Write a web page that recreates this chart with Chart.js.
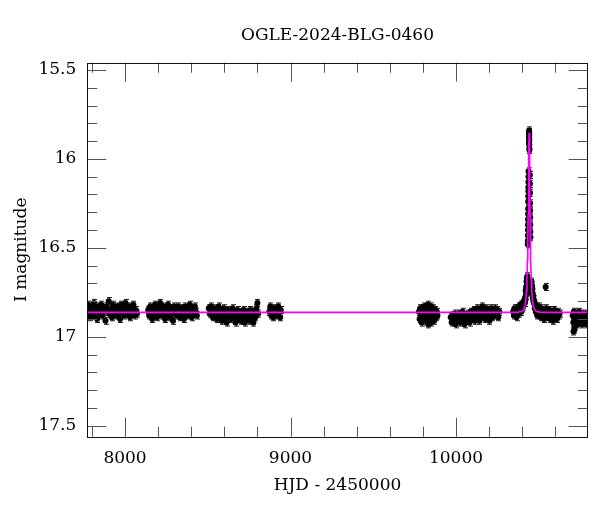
<!DOCTYPE html>
<html><head><meta charset="utf-8">
<script src="https://cdn.jsdelivr.net/npm/chart.js@4/dist/chart.umd.min.js"></script>
<style>html,body{margin:0;padding:0;background:#fff}</style>
</head><body>
<canvas id="c" width="600" height="512"></canvas>
<script>
const chartTitle = 'OGLE-2024-BLG-0460';
const xAxisLabel = 'HJD - 2450000';
const yAxisLabel = 'I magnitude';
const xTickValues = [8000, 9000, 10000];
const yTickValues = [15.5, 16, 16.5, 17, 17.5];
const xRange = [7772, 10796];
const yRange = [15.459, 17.562];
const magErr = 0.02;

// observed points [HJD-2450000, I mag], one array per observing season
const season2017 = [[7762,16.84],[7768,16.87],[7775,16.82],[7781,16.86],[7788,16.89],[7794,16.83],[7800,16.85],[7806,16.88],[7812,16.81],[7819,16.86],[7825,16.84],[7831,16.90],[7838,16.83],[7844,16.87],[7850,16.85],[7857,16.82],[7863,16.88],[7869,16.86],[7876,16.84],[7882,16.91],[7888,16.83],[7894,16.86],[7901,16.80],[7907,16.87],[7913,16.85],[7920,16.89],[7926,16.82],[7932,16.86],[7939,16.84],[7945,16.88],[7951,16.83],[7958,16.87],[7964,16.85],[7970,16.90],[7977,16.82],[7983,16.86],[7990,16.84],[7996,16.88],[8003,16.81],[8010,16.85],[8016,16.87],[8023,16.83],[8030,16.89],[8037,16.84],[8044,16.86],[8051,16.82],[8058,16.88],[8065,16.85],[8072,16.87]];
const season2018 = [[8140,16.85],[8146,16.88],[8152,16.83],[8158,16.86],[8164,16.90],[8170,16.84],[8176,16.87],[8182,16.82],[8188,16.86],[8194,16.89],[8200,16.84],[8206,16.87],[8212,16.81],[8218,16.85],[8224,16.88],[8230,16.83],[8236,16.86],[8242,16.90],[8248,16.84],[8254,16.87],[8260,16.82],[8266,16.85],[8272,16.89],[8278,16.84],[8284,16.86],[8290,16.91],[8296,16.83],[8302,16.87],[8308,16.85],[8314,16.88],[8320,16.83],[8326,16.86],[8332,16.89],[8338,16.84],[8344,16.87],[8350,16.85],[8356,16.90],[8362,16.83],[8368,16.86],[8374,16.88],[8380,16.84],[8386,16.87],[8392,16.82],[8398,16.86],[8404,16.89],[8410,16.85],[8416,16.87],[8422,16.83],[8428,16.86],[8434,16.88]];
const season2019 = [[8506,16.84],[8512,16.87],[8518,16.83],[8524,16.86],[8530,16.89],[8536,16.84],[8542,16.87],[8548,16.85],[8554,16.90],[8560,16.86],[8566,16.83],[8572,16.88],[8578,16.85],[8584,16.91],[8590,16.86],[8596,16.84],[8602,16.89],[8608,16.87],[8614,16.92],[8620,16.85],[8626,16.88],[8632,16.86],[8638,16.90],[8644,16.87],[8650,16.84],[8656,16.89],[8662,16.86],[8668,16.92],[8674,16.88],[8680,16.85],[8686,16.90],[8692,16.87],[8698,16.91],[8704,16.86],[8710,16.89],[8716,16.85],[8722,16.92],[8728,16.87],[8734,16.90],[8740,16.86],[8746,16.88],[8752,16.91],[8758,16.85],[8764,16.89],[8770,16.87],[8776,16.92],[8782,16.86],[8788,16.89],[8794,16.84],[8800,16.81],[8804,16.87]];
const season2020 = [[8872,16.86],[8878,16.83],[8884,16.88],[8890,16.85],[8896,16.89],[8902,16.84],[8908,16.87],[8914,16.85],[8920,16.88],[8926,16.83],[8932,16.86],[8938,16.89],[8941,16.85]];
const season2022 = [[9776,16.86],[9780,16.90],[9784,16.84],[9788,16.88],[9792,16.92],[9796,16.85],[9800,16.87],[9804,16.83],[9808,16.89],[9812,16.86],[9816,16.91],[9820,16.84],[9824,16.88],[9828,16.86],[9830,16.82],[9832,16.93],[9836,16.85],[9840,16.89],[9844,16.87],[9848,16.83],[9850,16.92],[9852,16.90],[9856,16.86],[9860,16.88],[9864,16.84],[9868,16.91],[9872,16.87],[9876,16.85],[9880,16.89],[9884,16.86],[9888,16.88]];
const season2023 = [[9968,16.89],[9974,16.92],[9980,16.88],[9986,16.91],[9992,16.87],[9998,16.93],[10004,16.89],[10010,16.90],[10016,16.87],[10022,16.92],[10028,16.88],[10034,16.91],[10040,16.86],[10046,16.90],[10052,16.93],[10058,16.88],[10064,16.91],[10070,16.87],[10076,16.89],[10082,16.92],[10088,16.86],[10094,16.90],[10100,16.88],[10106,16.85],[10112,16.91],[10118,16.87],[10124,16.89],[10130,16.84],[10136,16.88],[10142,16.91],[10148,16.85],[10154,16.87],[10160,16.83],[10166,16.89],[10172,16.86],[10178,16.90],[10184,16.84],[10190,16.88],[10196,16.85],[10202,16.91],[10208,16.87],[10214,16.84],[10220,16.89],[10226,16.86],[10232,16.88],[10238,16.84],[10244,16.87],[10250,16.85],[10256,16.89],[10262,16.86]];
const season2024 = [[10345,16.86],[10350,16.88],[10354,16.84],[10358,16.87],[10362,16.85],[10366,16.89],[10370,16.84],[10374,16.86],[10378,16.83],[10382,16.87],[10386,16.85],[10390,16.82],[10394,16.86],[10398,16.84],[10402,16.81],[10406,16.83],[10410,16.80],
  [10414,16.80],[10416,16.81],[10418,16.78],[10420,16.79],[10421,16.74],[10422,16.77],[10424,16.72],[10425,16.75],[10426,16.69],[10427,16.73],[10428,16.67],[10429,16.70],[10430,16.68],[10431,16.66],
  [10433.7,16.48],[10434.0,16.46],[10434.3,16.43],[10434.7,16.40],[10435.0,16.37],[10435.4,16.34],[10435.8,16.31],[10436.1,16.28],[10436.5,16.24],[10436.9,16.21],[10437.2,16.18],[10437.5,16.16],[10437.8,16.13],[10438.1,16.10],[10438.4,16.07],
  [10441.2,15.91],[10441.5,15.86],[10441.8,15.88],[10442.0,15.85],[10442.1,15.84],[10442.3,15.90],[10442.6,15.87],[10442.7,15.86],[10442.9,15.92],[10443.2,15.89],[10443.5,15.94],[10443.8,15.95],
  [10446.4,16.09],[10446.8,16.14],[10447.2,16.19],[10447.7,16.25],[10448.1,16.29],[10448.6,16.33],[10449.0,16.37],[10449.5,16.41],[10449.9,16.44],
  [10452,16.70],[10454,16.72],[10455,16.75],[10456,16.69],[10458,16.74],[10459,16.71],[10460,16.76],[10462,16.73],[10464,16.78],[10466,16.77],[10468,16.80],[10470,16.79],
  [10473,16.81],[10476,16.84],[10479,16.82],[10482,16.86],[10485,16.83],[10488,16.85],[10491,16.88],[10494,16.84],[10497,16.86],[10500,16.83],[10504,16.87],[10508,16.85],[10512,16.89],[10516,16.84],[10520,16.86],[10524,16.88],[10528,16.85],[10532,16.90],[10536,16.86],[10540,16.87],[10542,16.72],[10545,16.84],[10550,16.89],[10555,16.86],[10560,16.88],[10565,16.85],[10570,16.90],[10575,16.87],[10580,16.86],[10585,16.91],[10590,16.88],[10595,16.85],[10600,16.89],[10605,16.87],[10610,16.90],[10615,16.86],[10620,16.88],[10626,16.87]];
const season2025 = [[10705,16.88],[10709,16.92],[10710,16.97],[10712,16.86],[10715,16.96],[10716,16.90],[10719,16.94],[10722,16.87],[10726,16.91],[10729,16.89],[10733,16.93],[10736,16.88],[10740,16.90],[10743,16.86],[10747,16.92],[10750,16.89],[10754,16.91],[10757,16.87],[10761,16.93],[10764,16.90],[10768,16.88],[10771,16.92],[10775,16.89],[10778,16.91],[10782,16.87],[10786,16.90],[10790,16.93],[10794,16.89],[10798,16.91]];

// point-lens model curve
const modelHjd = [7700,10300,10372,10397,10410,10417,10422,10426,10429,10432,10434,10436,10438,10440,10442,10444,10446,10448,10450,10452,10455,10458,10462,10467,10474,10487,10512,10600,10850];
const modelMag = [16.863,16.863,16.862,16.858,16.846,16.827,16.794,16.743,16.677,16.567,16.458,16.311,16.127,15.941,15.853,15.941,16.127,16.311,16.458,16.567,16.677,16.743,16.794,16.827,16.846,16.858,16.862,16.863,16.863];

const seasons = [season2017, season2018, season2019, season2020, season2022, season2023, season2024, season2025];
const obs = [];
seasons.forEach(s => s.forEach(p => obs.push({x: p[0], y: p[1], e: magErr})));
const model = modelHjd.map((t, i) => ({x: t, y: modelMag[i]}));

const serif = 'DejaVu Serif';

const errorBarPlugin = {
  id: 'errbars',
  beforeDatasetsDraw(chart) {
    const {ctx, chartArea: a, scales: {x, y}} = chart;
    ctx.save();
    ctx.beginPath(); ctx.rect(a.left, a.top, a.right - a.left, a.bottom - a.top); ctx.clip();
    ctx.strokeStyle = '#1a1a1a'; ctx.lineWidth = 1;
    ctx.beginPath();
    obs.forEach(p => {
      const px = Math.round(x.getPixelForValue(p.x)) + 0.5;
      const y1 = y.getPixelForValue(p.y - p.e), y2 = y.getPixelForValue(p.y + p.e);
      ctx.moveTo(px, y1); ctx.lineTo(px, y2);
      ctx.moveTo(px - 2.5, y1); ctx.lineTo(px + 2.5, y1);
      ctx.moveTo(px - 2.5, y2); ctx.lineTo(px + 2.5, y2);
    });
    ctx.stroke();
    ctx.restore();
  }
};

const framePlugin = {
  id: 'frame',
  afterDatasetsDraw(chart) {
    const {ctx, chartArea: a, scales: {x, y}} = chart;
    ctx.save();
    ctx.strokeStyle = '#555'; ctx.lineWidth = 1;
    ctx.beginPath();
    for (let v = 7800; v <= 10800; v += 200) {
      if (v < xRange[0] || v > xRange[1]) continue;
      const px = Math.round(x.getPixelForValue(v)) + 0.5;
      const len = xTickValues.includes(v) ? 19 : 10;
      ctx.moveTo(px, a.bottom); ctx.lineTo(px, a.bottom - len);
      ctx.moveTo(px, a.top); ctx.lineTo(px, a.top + len);
    }
    for (let k = 0; k <= 20; k++) {
      const v = Math.round((15.5 + k * 0.1) * 10) / 10;
      const py = Math.round(y.getPixelForValue(v)) + 0.5;
      const len = yTickValues.includes(v) ? 19 : 10;
      ctx.moveTo(a.left, py); ctx.lineTo(a.left + len, py);
      ctx.moveTo(a.right, py); ctx.lineTo(a.right - len, py);
    }
    ctx.stroke();
    ctx.strokeStyle = '#111';
    ctx.strokeRect(Math.round(a.left) + 0.5, Math.round(a.top) + 0.5, Math.round(a.right - a.left), Math.round(a.bottom - a.top));
    ctx.fillStyle = '#000';
    ctx.font = '17px "' + serif + '"';
    ctx.textAlign = 'center'; ctx.textBaseline = 'middle';
    ctx.fillText(chartTitle, (a.left + a.right) / 2, 36);
    ctx.restore();
  }
};

new Chart(document.getElementById('c').getContext('2d'), {
  type: 'scatter',
  data: {
    datasets: [
      {label: 'model', data: model, showLine: true, borderColor: '#ff00ff', borderWidth: 1.6, pointRadius: 0, fill: false, tension: 0},
      {label: 'OGLE', data: obs, backgroundColor: '#000', borderColor: '#000', borderWidth: 0, pointRadius: 3, pointStyle: 'circle'}
    ]
  },
  options: {
    responsive: false, animation: false, devicePixelRatio: 1,
    layout: {padding: {left: 0, right: 12.3, top: 62.7, bottom: 0}},
    plugins: {legend: {display: false}, title: {display: false}, tooltip: {enabled: false}},
    scales: {
      x: {
        type: 'linear', min: xRange[0], max: xRange[1],
        afterFit(s) { s.height = 75.3; },
        afterBuildTicks(s) { s.ticks = xTickValues.map(v => ({value: v})); },
        grid: {display: false}, border: {display: false},
        ticks: {font: {family: serif, size: 17}, color: '#000', padding: 4, maxRotation: 0, autoSkip: false, callback: v => String(v)},
        title: {display: true, text: xAxisLabel, font: {family: serif, size: 17}, color: '#000', padding: {top: 0, bottom: 15.8}}
      },
      y: {
        type: 'linear', reverse: true, min: yRange[0], max: yRange[1],
        afterFit(s) { s.width = 87.3; },
        afterBuildTicks(s) { s.ticks = yTickValues.map(v => ({value: v})); },
        grid: {display: false}, border: {display: false},
        ticks: {font: {family: serif, size: 17}, color: '#000', padding: 3, autoSkip: false, callback: v => String(v)},
        title: {display: true, text: yAxisLabel, font: {family: serif, size: 17}, color: '#000', padding: {top: 11.3, bottom: 0}}
      }
    }
  },
  plugins: [errorBarPlugin, framePlugin]
});
</script>
</body></html>
